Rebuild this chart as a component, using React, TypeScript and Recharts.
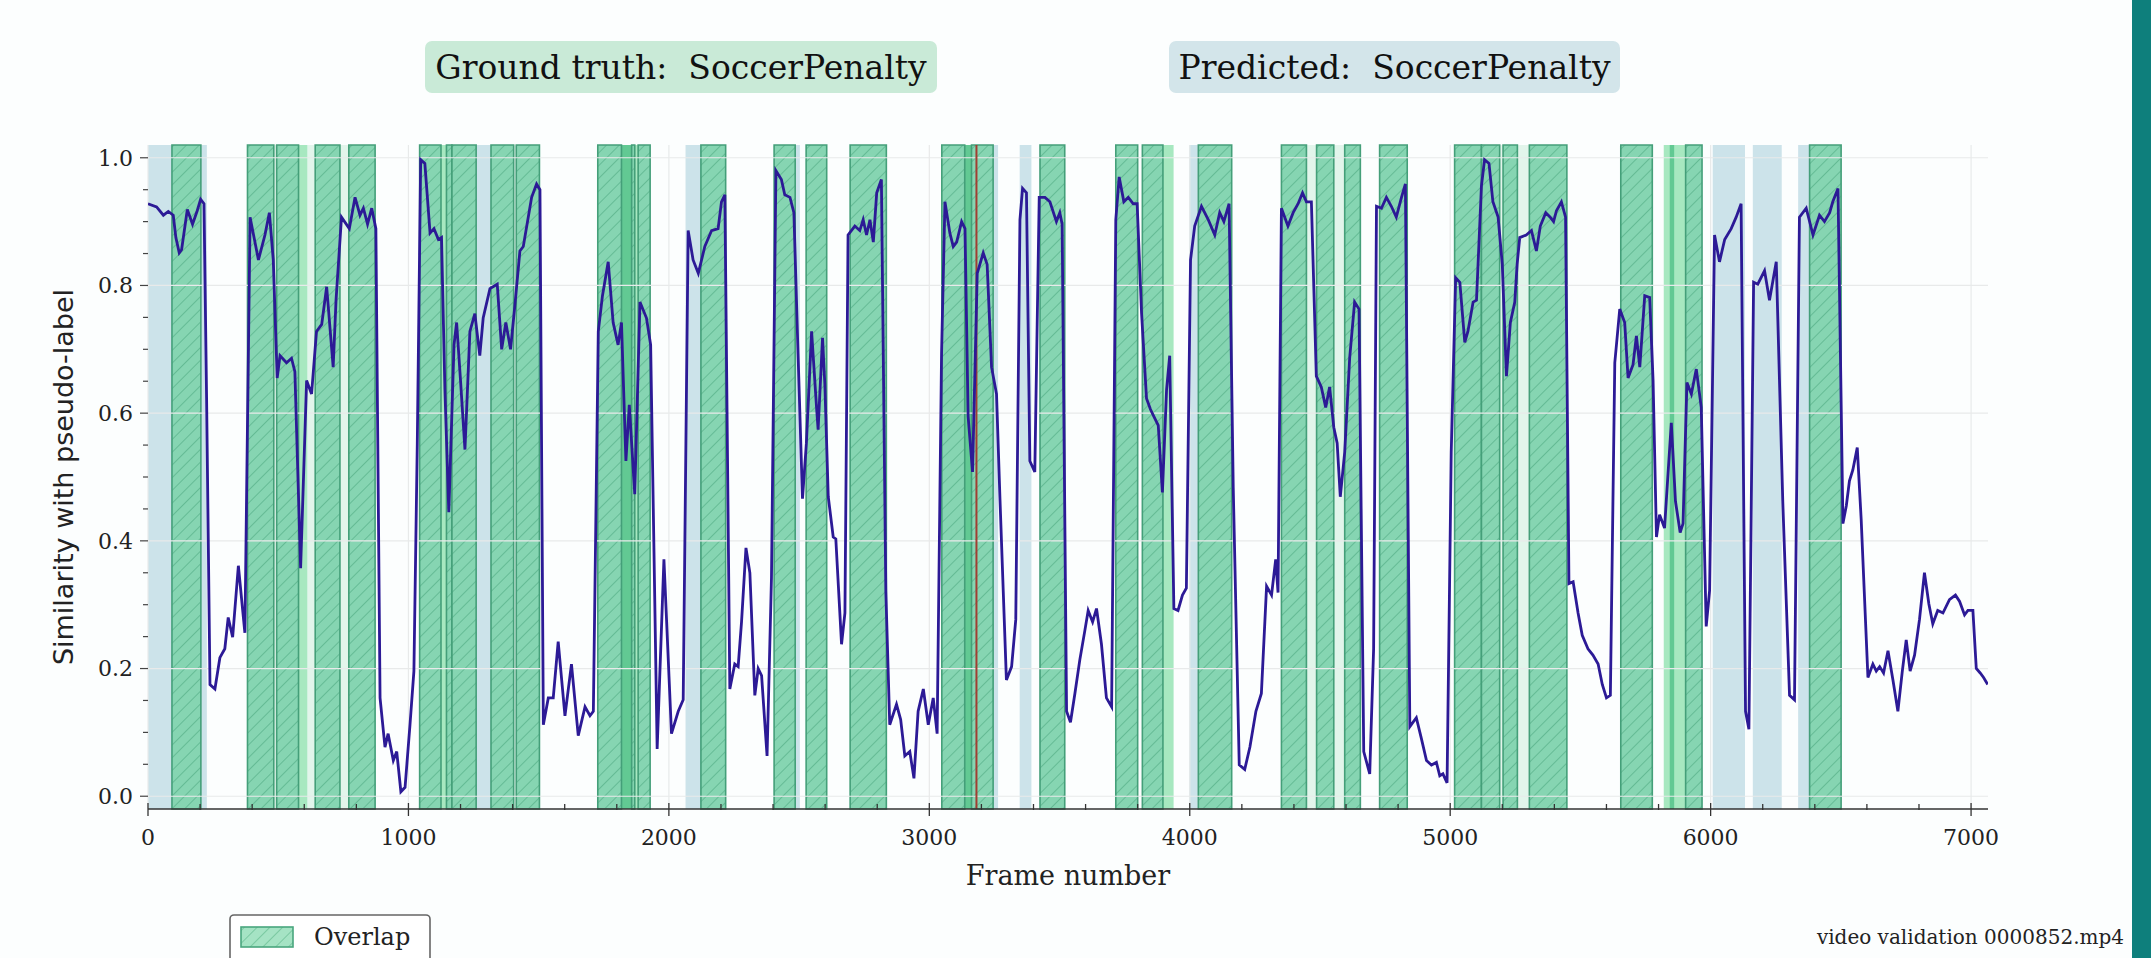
import React from 'react';
import { ComposedChart, Line, XAxis, YAxis, ReferenceArea, ReferenceLine } from 'recharts';

const W = 2151;
const H = 958;

const frames = [
  0, 33, 59, 78, 97, 107, 120, 129, 151, 171,
  189, 202, 215, 225, 238, 257, 276, 295, 308, 325,
  347, 372, 392, 424, 449, 466, 481, 496, 507, 532,
  551, 564, 586, 609, 628, 647, 667, 686, 711, 722,
  743, 773, 795, 814, 827, 843, 859, 875, 891, 910,
  922, 942, 955, 971, 987, 1006, 1021, 1034, 1047, 1063,
  1083, 1098, 1115, 1127, 1140, 1155, 1175, 1185, 1200, 1217,
  1236, 1255, 1274, 1287, 1313, 1341, 1358, 1374, 1392, 1409,
  1428, 1441, 1473, 1492, 1505, 1518, 1537, 1556, 1575, 1601,
  1626, 1652, 1678, 1697, 1710, 1729, 1745, 1767, 1786, 1805,
  1818, 1835, 1848, 1869, 1889, 1914, 1930, 1955, 1981, 2010,
  2036, 2055, 2074, 2093, 2113, 2138, 2164, 2189, 2202, 2215,
  2234, 2253, 2266, 2279, 2296, 2311, 2330, 2343, 2356, 2377,
  2394, 2411, 2432, 2445, 2465, 2480, 2496, 2513, 2528, 2548,
  2567, 2573, 2590, 2599, 2612, 2631, 2641, 2663, 2676, 2688,
  2714, 2733, 2746, 2759, 2772, 2785, 2798, 2816, 2833, 2848,
  2874, 2890, 2906, 2925, 2941, 2957, 2977, 2996, 3015, 3030,
  3047, 3060, 3079, 3092, 3105, 3124, 3137, 3149, 3166, 3184,
  3207, 3222, 3239, 3258, 3271, 3296, 3316, 3332, 3348, 3358,
  3373, 3386, 3405, 3422, 3444, 3463, 3488, 3501, 3510, 3527,
  3542, 3559, 3578, 3597, 3610, 3627, 3642, 3661, 3680, 3700,
  3716, 3729, 3747, 3764, 3783, 3798, 3815, 3834, 3849, 3862,
  3879, 3895, 3911, 3923, 3939, 3955, 3972, 3987, 4003, 4019,
  4045, 4071, 4096, 4115, 4131, 4151, 4167, 4190, 4211, 4231,
  4254, 4275, 4295, 4314, 4330, 4339, 4352, 4377, 4397, 4416,
  4433, 4448, 4467, 4486, 4505, 4522, 4537, 4553, 4566, 4578,
  4595, 4614, 4633, 4650, 4668, 4691, 4706, 4717, 4736, 4755,
  4774, 4793, 4813, 4828, 4845, 4870, 4889, 4909, 4928, 4947,
  4960, 4972, 4988, 5004, 5021, 5037, 5056, 5068, 5088, 5101,
  5120, 5132, 5149, 5164, 5184, 5200, 5216, 5231, 5248, 5257,
  5267, 5292, 5312, 5331, 5346, 5367, 5384, 5397, 5408, 5427,
  5443, 5456, 5472, 5491, 5507, 5529, 5548, 5568, 5584, 5600,
  5615, 5632, 5651, 5670, 5683, 5702, 5715, 5728, 5747, 5766,
  5779, 5792, 5804, 5823, 5849, 5865, 5883, 5894, 5909, 5926,
  5945, 5964, 5983, 5996, 6015, 6034, 6054, 6079, 6098, 6117,
  6134, 6147, 6165, 6181, 6207, 6226, 6252, 6277, 6303, 6322,
  6341, 6367, 6393, 6418, 6437, 6457, 6469, 6489, 6508, 6521,
  6533, 6546, 6563, 6578, 6604, 6623, 6636, 6649, 6664, 6681,
  6700, 6719, 6736, 6751, 6766, 6783, 6802, 6821, 6838, 6853,
  6872, 6892, 6917, 6940, 6956, 6975, 6988, 7007, 7020, 7035,
  7048, 7064,
];

const similarity = [
  0.928, 0.923, 0.910, 0.916, 0.910, 0.875, 0.851, 0.856, 0.919, 0.896,
  0.917, 0.935, 0.928, 0.623, 0.175, 0.168, 0.217, 0.231, 0.280, 0.249,
  0.361, 0.256, 0.907, 0.840, 0.879, 0.914, 0.840, 0.655, 0.690, 0.679,
  0.686, 0.665, 0.357, 0.651, 0.630, 0.728, 0.739, 0.798, 0.672, 0.777,
  0.907, 0.889, 0.938, 0.910, 0.921, 0.896, 0.921, 0.889, 0.154, 0.077,
  0.098, 0.056, 0.070, 0.007, 0.014, 0.112, 0.196, 0.553, 0.997, 0.991,
  0.882, 0.889, 0.872, 0.875, 0.637, 0.445, 0.707, 0.742, 0.651, 0.543,
  0.728, 0.756, 0.690, 0.749, 0.795, 0.802, 0.700, 0.742, 0.700, 0.770,
  0.854, 0.861, 0.938, 0.959, 0.950, 0.112, 0.154, 0.154, 0.242, 0.126,
  0.207, 0.095, 0.140, 0.126, 0.133, 0.728, 0.784, 0.837, 0.742, 0.707,
  0.742, 0.525, 0.613, 0.473, 0.774, 0.749, 0.707, 0.074, 0.371, 0.098,
  0.133, 0.151, 0.886, 0.840, 0.819, 0.861, 0.886, 0.889, 0.931, 0.942,
  0.168, 0.207, 0.203, 0.273, 0.389, 0.350, 0.158, 0.200, 0.189, 0.063,
  0.343, 0.980, 0.966, 0.942, 0.938, 0.914, 0.693, 0.466, 0.553, 0.728,
  0.609, 0.574, 0.718, 0.644, 0.469, 0.406, 0.403, 0.238, 0.287, 0.879,
  0.893, 0.886, 0.903, 0.879, 0.903, 0.868, 0.945, 0.966, 0.322, 0.112,
  0.144, 0.120, 0.063, 0.070, 0.028, 0.133, 0.168, 0.112, 0.154, 0.098,
  0.693, 0.931, 0.882, 0.861, 0.868, 0.900, 0.889, 0.595, 0.508, 0.819,
  0.851, 0.833, 0.672, 0.630, 0.469, 0.182, 0.203, 0.277, 0.903, 0.952,
  0.945, 0.525, 0.508, 0.938, 0.938, 0.931, 0.900, 0.914, 0.896, 0.133,
  0.116, 0.161, 0.214, 0.259, 0.291, 0.273, 0.294, 0.238, 0.154, 0.140,
  0.903, 0.970, 0.931, 0.938, 0.928, 0.928, 0.756, 0.623, 0.606, 0.595,
  0.581, 0.476, 0.637, 0.690, 0.294, 0.291, 0.315, 0.326, 0.840, 0.893,
  0.924, 0.903, 0.879, 0.914, 0.900, 0.928, 0.483, 0.049, 0.042, 0.077,
  0.133, 0.161, 0.329, 0.315, 0.371, 0.319, 0.921, 0.893, 0.914, 0.928,
  0.945, 0.931, 0.931, 0.658, 0.641, 0.609, 0.641, 0.578, 0.553, 0.469,
  0.539, 0.686, 0.774, 0.763, 0.070, 0.035, 0.231, 0.924, 0.921, 0.938,
  0.924, 0.907, 0.938, 0.959, 0.109, 0.123, 0.091, 0.056, 0.049, 0.053,
  0.032, 0.035, 0.021, 0.539, 0.812, 0.805, 0.711, 0.728, 0.774, 0.777,
  0.956, 0.997, 0.991, 0.931, 0.907, 0.833, 0.658, 0.742, 0.774, 0.833,
  0.875, 0.879, 0.886, 0.854, 0.893, 0.914, 0.907, 0.900, 0.917, 0.931,
  0.907, 0.333, 0.336, 0.287, 0.252, 0.231, 0.221, 0.207, 0.175, 0.154,
  0.158, 0.679, 0.763, 0.742, 0.655, 0.676, 0.721, 0.672, 0.784, 0.781,
  0.651, 0.406, 0.441, 0.420, 0.585, 0.462, 0.413, 0.427, 0.648, 0.630,
  0.669, 0.609, 0.266, 0.322, 0.879, 0.837, 0.872, 0.889, 0.907, 0.928,
  0.133, 0.105, 0.805, 0.802, 0.823, 0.777, 0.837, 0.462, 0.158, 0.151,
  0.907, 0.921, 0.879, 0.910, 0.900, 0.914, 0.931, 0.952, 0.427, 0.455,
  0.494, 0.511, 0.546, 0.434, 0.186, 0.207, 0.196, 0.203, 0.193, 0.228,
  0.182, 0.133, 0.196, 0.245, 0.196, 0.221, 0.277, 0.350, 0.301, 0.270,
  0.291, 0.287, 0.308, 0.315, 0.305, 0.284, 0.291, 0.291, 0.200, 0.193,
  0.186, 0.175,
];

// Segments (frame ranges)
const predictedOnlySpans: [number, number][] = [
  [0, 92], [203, 226], [1260, 1317], [2064, 2123], [2485, 2503], [3245, 3264],
  [3347, 3392], [3997, 4033], [6008, 6132], [6162, 6273], [6336, 6380],
];
const groundTruthOnlySpans: [number, number][] = [
  [578, 612], [1125, 1146], [1869, 1882], [3897, 3938], [5820, 5904],
];
const groundTruthDenseSpans: [number, number][] = [
  [1818, 1857], [3136, 3162], [5843, 5860],
];
const paleGapSpans: [number, number][] = [
  [483, 494], [612, 642], [737, 771], [1404, 1414], [4448, 4487], [4553, 4595],
  [5190, 5203], [5258, 5304],
];
const overlapSpans: [number, number][] = [
  [92, 203], [382, 483], [494, 578], [642, 737], [771, 872], [1043, 1125],
  [1146, 1167], [1167, 1260], [1317, 1404], [1414, 1503], [1727, 1818],
  [1857, 1869], [1882, 1928], [2123, 2218], [2404, 2485], [2527, 2606],
  [2696, 2835], [3048, 3136], [3162, 3245], [3425, 3520], [3716, 3800],
  [3818, 3897], [4033, 4161], [4352, 4448], [4487, 4553], [4595, 4655],
  [4729, 4835], [5017, 5120], [5120, 5190], [5203, 5258], [5304, 5448],
  [5655, 5776], [5904, 5967], [6380, 6501],
];
const currentFrame = 3181;

const xMajorTicks = [0, 1000, 2000, 3000, 4000, 5000, 6000, 7000];
const xMinorTicks = [
  200, 400, 600, 800, 1200, 1400, 1600, 1800, 2200, 2400, 2600, 2800,
  3200, 3400, 3600, 3800, 4200, 4400, 4600, 4800, 5200, 5400, 5600, 5800,
  6200, 6400, 6600, 6800,
];
const yMajorTicks = [0, 0.2, 0.4, 0.6, 0.8, 1.0];
const yMinorTicks = [
  0.05, 0.1, 0.15, 0.25, 0.3, 0.35, 0.45, 0.5, 0.55, 0.65, 0.7, 0.75, 0.85, 0.9, 0.95,
];
const xAllTicks = [...xMajorTicks, ...xMinorTicks].sort((a, b) => a - b);
const yAllTicks = [...yMajorTicks, ...yMinorTicks].sort((a, b) => a - b);

const SERIF = '"DejaVu Serif", serif';
const SANS = '"DejaVu Sans", sans-serif';

const XTick = (props: any) => {
  const { x, y, payload } = props;
  const v = payload.value;
  const major = xMajorTicks.includes(v);
  return (
    <g>
      <line x1={x} x2={x} y1={major ? y - 6 : y - 5} y2={major ? y + 7 : y + 1} stroke="#333" strokeWidth={1.3} />
      {major && (
        <text x={x} y={y + 36} textAnchor="middle" fontFamily={SERIF} fontSize={22} fill="#222">
          {v}
        </text>
      )}
    </g>
  );
};

const YTick = (props: any) => {
  const { x, y, payload } = props;
  const v = payload.value;
  const major = yMajorTicks.some((t) => Math.abs(t - v) < 1e-9);
  return (
    <g>
      <line x1={x - (major ? 8 : 5)} x2={x} y1={y} y2={y} stroke="#444" strokeWidth={1.2} />
      {major && (
        <text x={x - 15} y={y} dy="0.36em" textAnchor="end" fontFamily={SERIF} fontSize={22} fill="#222">
          {v.toFixed(1)}
        </text>
      )}
    </g>
  );
};

export default function App() {
  const data = frames.map((f, i) => ({ frame: f, sim: similarity[i] }));
  return (
    <div style={{ position: 'fixed', left: 0, top: 0, width: W, height: H, overflow: 'hidden', background: '#fcfefe' }}>
      <div style={{ position: 'absolute', left: 0, top: 0 }}>
        <ComposedChart width={W} height={H} data={data} margin={{ top: 145, right: 163, bottom: 89, left: 68 }}>
          <defs>
            <pattern id="overlapHatch" patternUnits="userSpaceOnUse" width="9" height="9" patternTransform="rotate(45)">
              <rect x="0" y="0" width="9" height="9" fill="#86d5b2" />
              <line x1="0" y1="0" x2="0" y2="9" stroke="#5cb58e" strokeWidth="1.6" />
            </pattern>
          </defs>
          <XAxis
            dataKey="frame"
            type="number"
            domain={[0, 7065]}
            allowDataOverflow
            ticks={xAllTicks}
            interval={0}
            height={60}
            tickSize={0}
            tickMargin={0}
            tickLine={false}
            axisLine={{ stroke: '#333', strokeWidth: 1.6 }}
            tick={<XTick />}
          />
          <YAxis
            type="number"
            domain={[-0.02, 1.02]}
            allowDataOverflow
            ticks={yAllTicks}
            interval={0}
            width={80}
            tickSize={0}
            tickMargin={0}
            tickLine={false}
            axisLine={false}
            tick={<YTick />}
          />
          {yMajorTicks.map((v) => (
            <ReferenceLine key={'gy' + v} y={v} stroke="#e8eaea" strokeWidth={1.2} />
          ))}
          {xMajorTicks.map((v) => (
            <ReferenceLine key={'gx' + v} x={v} stroke="#e8eaea" strokeWidth={1.2} />
          ))}
          {predictedOnlySpans.map(([a, b], i) => (
            <ReferenceArea key={'p' + i} x1={a} x2={b} fill="#cce3ea" fillOpacity={1} stroke="none" />
          ))}
          {paleGapSpans.map(([a, b], i) => (
            <ReferenceArea key={'g' + i} x1={a} x2={b} fill="#e2f5eb" fillOpacity={1} stroke="none" />
          ))}
          {groundTruthOnlySpans.map(([a, b], i) => (
            <ReferenceArea key={'t' + i} x1={a} x2={b} fill="#a7e8c0" fillOpacity={1} stroke="none" />
          ))}
          {groundTruthDenseSpans.map(([a, b], i) => (
            <ReferenceArea key={'d' + i} x1={a} x2={b} fill="#62c993" fillOpacity={1} stroke="none" />
          ))}
          {overlapSpans.map(([a, b], i) => (
            <ReferenceArea
              key={'o' + i}
              x1={a}
              x2={b}
              fill="url(#overlapHatch)"
              fillOpacity={1}
              stroke="#449f79"
              strokeWidth={1.6}
            />
          ))}
          <ReferenceLine x={currentFrame} stroke="#a03e32" strokeWidth={2} />
          <Line
            dataKey="sim"
            type="linear"
            stroke="#2c1a96"
            strokeWidth={2.8}
            dot={false}
            activeDot={false}
            isAnimationActive={false}
          />
        </ComposedChart>
      </div>

      {/* Title boxes */}
      <div
        style={{
          position: 'absolute', left: 425, top: 41, width: 512, height: 52, background: '#c9ead7',
          borderRadius: 7, display: 'flex', alignItems: 'center', justifyContent: 'center',
          fontFamily: SERIF, fontSize: 33, color: '#111', whiteSpace: 'pre',
        }}
      >
        {'Ground truth:  SoccerPenalty'}
      </div>
      <div
        style={{
          position: 'absolute', left: 1169, top: 41, width: 451, height: 52, background: '#d3e5ea',
          borderRadius: 7, display: 'flex', alignItems: 'center', justifyContent: 'center',
          fontFamily: SERIF, fontSize: 33, color: '#111', whiteSpace: 'pre',
        }}
      >
        {'Predicted:  SoccerPenalty'}
      </div>

      {/* Text overlay */}
      <svg width={W} height={H} style={{ position: 'absolute', left: 0, top: 0, pointerEvents: 'none' }}>
        <defs>
          <pattern id="legendHatch" patternUnits="userSpaceOnUse" width="9" height="9" patternTransform="rotate(45)">
            <rect x="0" y="0" width="9" height="9" fill="#a5e3c4" />
            <line x1="0" y1="0" x2="0" y2="9" stroke="#6cc096" strokeWidth="1.5" />
          </pattern>
        </defs>
        <text
          x={63}
          y={477}
          transform="rotate(-90 63 477)"
          textAnchor="middle"
          dominantBaseline="central"
          fontFamily={SANS}
          fontSize={27}
          fill="#222"
        >
          Similarity with pseudo-label
        </text>
        <text x={1068} y={885} textAnchor="middle" fontFamily={SERIF} fontSize={27} fill="#222">
          Frame number
        </text>
        {/* Legend */}
        <rect x={230} y={915} width={200} height={70} rx={4} fill="#ffffff" stroke="#666" strokeWidth={1.6} />
        <rect x={241} y={927} width={52} height={20} fill="url(#legendHatch)" stroke="#49a67e" strokeWidth={1.6} />
        <text x={314} y={945} fontFamily={SERIF} fontSize={24} fill="#222">
          Overlap
        </text>
        <text x={2124} y={944} textAnchor="end" fontFamily={SERIF} fontSize={20} fill="#222">
          video validation 0000852.mp4
        </text>
        <rect x={2132} y={0} width={19} height={H} fill="#0e7f7c" />
      </svg>
    </div>
  );
}
